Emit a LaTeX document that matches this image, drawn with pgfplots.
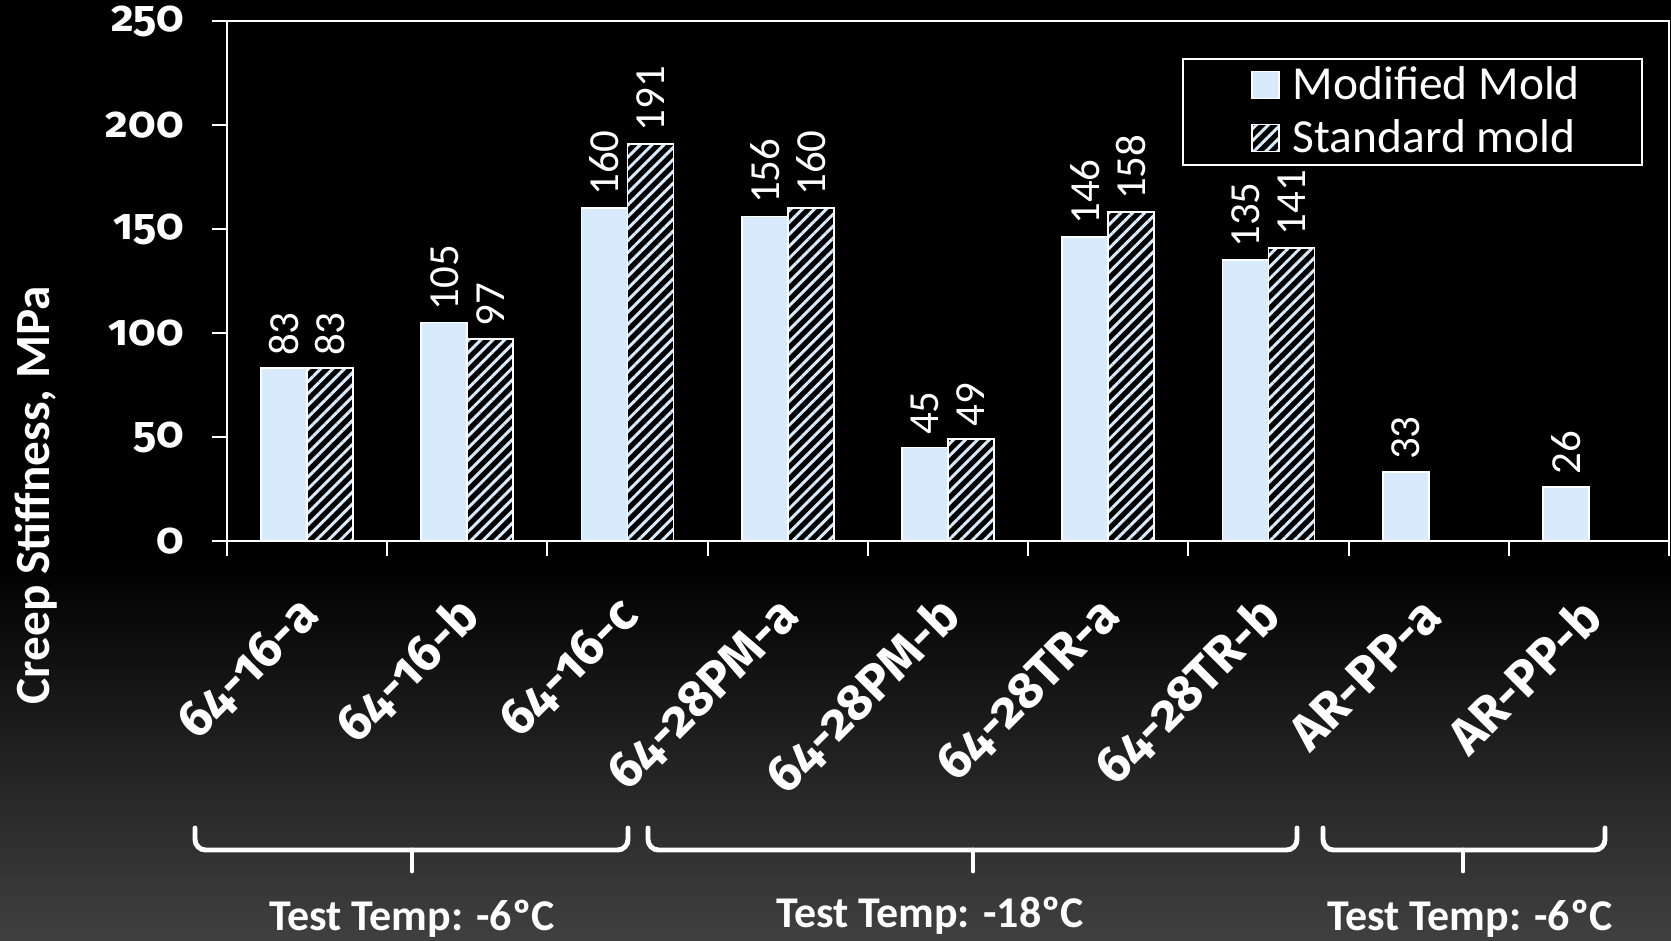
\documentclass[border=0pt]{standalone}
\usepackage{pgfplots}
\pgfplotsset{compat=1.18}
\usepackage{fontspec}
\setmainfont{Carlito}
\newfontfamily\oldnum{Fira Sans}[Numbers=OldStyle]
\usetikzlibrary{patterns.meta}
\definecolor{barblue}{HTML}{D7EBFC}
\definecolor{bgbottom}{HTML}{404040}

\begin{document}
\begin{tikzpicture}
% slide background: black fading to dark grey at the bottom
\fill[black] (0,0) rectangle (16.71,9.40);
\shade[top color=black, bottom color=bgbottom] (0,0) rectangle (16.71,3.80);

\begin{axis}[
  at={(2.27cm,3.99cm)}, anchor=south west,
  scale only axis, width=14.42cm, height=5.20cm,
  ybar=0pt, bar width=0.46cm,
  xmin=-0.5, xmax=8.5, ymin=0, ymax=250,
  axis line style={white, line width=0.6pt},
  xtick={0,...,8},
  xticklabels={64-16-a,64-16-b,64-16-c,64-28PM-a,64-28PM-b,64-28TR-a,64-28TR-b,AR-PP-a,AR-PP-b},
  minor xtick={-0.5,0.5,...,8.5},
  ytick={0,50,...,250},
  tick align=outside, xtick pos=bottom, ytick pos=left,
  major tick length=0.15cm, minor tick length=0.15cm,
  tick style={white, line width=0.6pt},
  major x tick style={draw=none},
  /pgf/number format/assume math mode=true,
  yticklabel style={xshift=-0.16cm, text=white, font=\oldnum\bfseries\fontsize{12.5}{12.5}\selectfont},
  xticklabel style={xshift=0.12cm, yshift=-0.43cm, rotate=45, anchor=east, text=white,
    font=\oldnum\bfseries\fontsize{14.5}{14.5}\selectfont},
  nodes near coords,
  nodes near coords style={rotate=90, anchor=west, text=white, font=\fontsize{12.2}{12.2}\selectfont},
  legend style={at={(0.982,0.929)}, anchor=north east, fill=black, draw=white, line width=0.6pt,
    text=white, font=\fontsize{13.5}{15}\selectfont, inner xsep=0.55cm, inner ysep=0pt,
    nodes={inner ysep=2.1pt}, row sep=0pt},
  legend cell align=left,
  sqlegend/.style={legend image code/.code={%
    \path (0cm,0cm) (0.46cm,0cm);
    \draw[##1, line width=0.4pt] (0.13cm,-0.13cm) rectangle (0.40cm,0.14cm);}},
]
\addplot[fill=barblue, draw=white, line width=0.5pt, sqlegend]
  coordinates {(0,83) (1,105) (2,160) (3,156) (4,45) (5,146) (6,135) (7,33) (8,26)};
\addplot[fill=black, draw=white, line width=0.5pt, sqlegend,
  postaction={pattern={Lines[angle=45, distance=2.4pt, line width=0.85pt]}, pattern color=barblue}]
  coordinates {(0,83) (1,97) (2,191) (3,160) (4,49) (5,158) (6,141)};
\legend{Modified Mold, Standard mold}
\end{axis}

% axis title
\node[rotate=90, anchor=base, text=white, font=\bfseries\fontsize{14}{14}\selectfont]
  at (0.50,4.45) {Creep Stiffness, MPa};

% group braces and test temperatures
\tikzset{brace/.style={white, line width=1.4pt, line cap=round, rounded corners=3pt}}
\draw[brace] (1.95,1.12) -- (1.95,0.90) -- (6.28,0.90) -- (6.28,1.12);
\draw[brace] (4.12,0.90) -- (4.12,0.69);
\draw[brace] (6.48,1.12) -- (6.48,0.90) -- (12.97,0.90) -- (12.97,1.12);
\draw[brace] (9.73,0.90) -- (9.73,0.69);
\draw[brace] (13.23,1.12) -- (13.23,0.90) -- (16.05,0.90) -- (16.05,1.12);
\draw[brace] (14.63,0.90) -- (14.63,0.69);

\tikzset{temp/.style={anchor=base, text=white, font=\bfseries\fontsize{12.5}{12.5}\selectfont}}
\node[temp] at (4.12,0.10) {Test Temp: -6ºC};
\node[temp] at (9.30,0.13) {Test Temp: -18ºC};
\node[temp] at (14.70,0.10) {Test Temp: -6ºC};

\pgfresetboundingbox
\path[use as bounding box] (0,0) rectangle (16.71,9.40);
\end{tikzpicture}
\end{document}
